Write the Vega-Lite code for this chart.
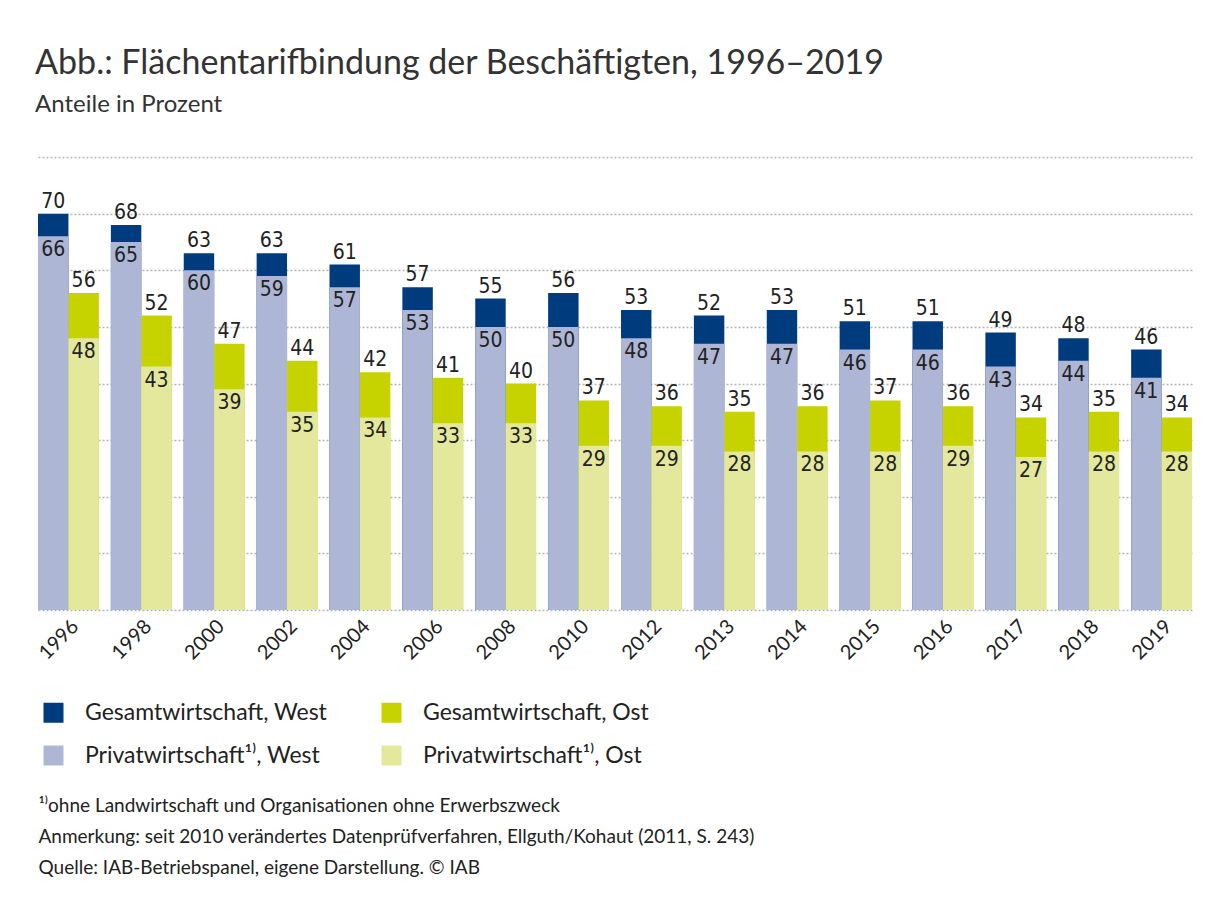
{
  "$schema": "https://vega.github.io/schema/vega-lite/v6.json",
  "width": 1154,
  "height": 453,
  "autosize": {"type": "none"},
  "padding": {"left": 38, "top": 157, "right": 28, "bottom": 291},
  "background": "white",
  "config": {"view": {"stroke": null}},
  "title": {
    "text": "Abb.: Flächentarifbindung der Beschäftigten, 1996–2019",
    "subtitle": "Anteile in Prozent",
    "anchor": "start",
    "font": "Lato",
    "fontSize": 34,
    "fontWeight": "normal",
    "color": "#333333",
    "subtitleFont": "Lato",
    "subtitleFontSize": 24,
    "subtitleColor": "#333333",
    "subtitlePadding": 12,
    "offset": 40
  },
  "data": {
    "values": [
      {"year": "1996", "region": "West", "typ": "Gesamt", "value": 70, "series": "Gesamtwirtschaft, West"},
      {"year": "1996", "region": "Ost", "typ": "Gesamt", "value": 56, "series": "Gesamtwirtschaft, Ost"},
      {"year": "1998", "region": "West", "typ": "Gesamt", "value": 68, "series": "Gesamtwirtschaft, West"},
      {"year": "1998", "region": "Ost", "typ": "Gesamt", "value": 52, "series": "Gesamtwirtschaft, Ost"},
      {"year": "2000", "region": "West", "typ": "Gesamt", "value": 63, "series": "Gesamtwirtschaft, West"},
      {"year": "2000", "region": "Ost", "typ": "Gesamt", "value": 47, "series": "Gesamtwirtschaft, Ost"},
      {"year": "2002", "region": "West", "typ": "Gesamt", "value": 63, "series": "Gesamtwirtschaft, West"},
      {"year": "2002", "region": "Ost", "typ": "Gesamt", "value": 44, "series": "Gesamtwirtschaft, Ost"},
      {"year": "2004", "region": "West", "typ": "Gesamt", "value": 61, "series": "Gesamtwirtschaft, West"},
      {"year": "2004", "region": "Ost", "typ": "Gesamt", "value": 42, "series": "Gesamtwirtschaft, Ost"},
      {"year": "2006", "region": "West", "typ": "Gesamt", "value": 57, "series": "Gesamtwirtschaft, West"},
      {"year": "2006", "region": "Ost", "typ": "Gesamt", "value": 41, "series": "Gesamtwirtschaft, Ost"},
      {"year": "2008", "region": "West", "typ": "Gesamt", "value": 55, "series": "Gesamtwirtschaft, West"},
      {"year": "2008", "region": "Ost", "typ": "Gesamt", "value": 40, "series": "Gesamtwirtschaft, Ost"},
      {"year": "2010", "region": "West", "typ": "Gesamt", "value": 56, "series": "Gesamtwirtschaft, West"},
      {"year": "2010", "region": "Ost", "typ": "Gesamt", "value": 37, "series": "Gesamtwirtschaft, Ost"},
      {"year": "2012", "region": "West", "typ": "Gesamt", "value": 53, "series": "Gesamtwirtschaft, West"},
      {"year": "2012", "region": "Ost", "typ": "Gesamt", "value": 36, "series": "Gesamtwirtschaft, Ost"},
      {"year": "2013", "region": "West", "typ": "Gesamt", "value": 52, "series": "Gesamtwirtschaft, West"},
      {"year": "2013", "region": "Ost", "typ": "Gesamt", "value": 35, "series": "Gesamtwirtschaft, Ost"},
      {"year": "2014", "region": "West", "typ": "Gesamt", "value": 53, "series": "Gesamtwirtschaft, West"},
      {"year": "2014", "region": "Ost", "typ": "Gesamt", "value": 36, "series": "Gesamtwirtschaft, Ost"},
      {"year": "2015", "region": "West", "typ": "Gesamt", "value": 51, "series": "Gesamtwirtschaft, West"},
      {"year": "2015", "region": "Ost", "typ": "Gesamt", "value": 37, "series": "Gesamtwirtschaft, Ost"},
      {"year": "2016", "region": "West", "typ": "Gesamt", "value": 51, "series": "Gesamtwirtschaft, West"},
      {"year": "2016", "region": "Ost", "typ": "Gesamt", "value": 36, "series": "Gesamtwirtschaft, Ost"},
      {"year": "2017", "region": "West", "typ": "Gesamt", "value": 49, "series": "Gesamtwirtschaft, West"},
      {"year": "2017", "region": "Ost", "typ": "Gesamt", "value": 34, "series": "Gesamtwirtschaft, Ost"},
      {"year": "2018", "region": "West", "typ": "Gesamt", "value": 48, "series": "Gesamtwirtschaft, West"},
      {"year": "2018", "region": "Ost", "typ": "Gesamt", "value": 35, "series": "Gesamtwirtschaft, Ost"},
      {"year": "2019", "region": "West", "typ": "Gesamt", "value": 46, "series": "Gesamtwirtschaft, West"},
      {"year": "2019", "region": "Ost", "typ": "Gesamt", "value": 34, "series": "Gesamtwirtschaft, Ost"},
      {"year": "1996", "region": "West", "typ": "Privat", "value": 66, "series": "Privatwirtschaft¹⁾, West"},
      {"year": "1996", "region": "Ost", "typ": "Privat", "value": 48, "series": "Privatwirtschaft¹⁾, Ost"},
      {"year": "1998", "region": "West", "typ": "Privat", "value": 65, "series": "Privatwirtschaft¹⁾, West"},
      {"year": "1998", "region": "Ost", "typ": "Privat", "value": 43, "series": "Privatwirtschaft¹⁾, Ost"},
      {"year": "2000", "region": "West", "typ": "Privat", "value": 60, "series": "Privatwirtschaft¹⁾, West"},
      {"year": "2000", "region": "Ost", "typ": "Privat", "value": 39, "series": "Privatwirtschaft¹⁾, Ost"},
      {"year": "2002", "region": "West", "typ": "Privat", "value": 59, "series": "Privatwirtschaft¹⁾, West"},
      {"year": "2002", "region": "Ost", "typ": "Privat", "value": 35, "series": "Privatwirtschaft¹⁾, Ost"},
      {"year": "2004", "region": "West", "typ": "Privat", "value": 57, "series": "Privatwirtschaft¹⁾, West"},
      {"year": "2004", "region": "Ost", "typ": "Privat", "value": 34, "series": "Privatwirtschaft¹⁾, Ost"},
      {"year": "2006", "region": "West", "typ": "Privat", "value": 53, "series": "Privatwirtschaft¹⁾, West"},
      {"year": "2006", "region": "Ost", "typ": "Privat", "value": 33, "series": "Privatwirtschaft¹⁾, Ost"},
      {"year": "2008", "region": "West", "typ": "Privat", "value": 50, "series": "Privatwirtschaft¹⁾, West"},
      {"year": "2008", "region": "Ost", "typ": "Privat", "value": 33, "series": "Privatwirtschaft¹⁾, Ost"},
      {"year": "2010", "region": "West", "typ": "Privat", "value": 50, "series": "Privatwirtschaft¹⁾, West"},
      {"year": "2010", "region": "Ost", "typ": "Privat", "value": 29, "series": "Privatwirtschaft¹⁾, Ost"},
      {"year": "2012", "region": "West", "typ": "Privat", "value": 48, "series": "Privatwirtschaft¹⁾, West"},
      {"year": "2012", "region": "Ost", "typ": "Privat", "value": 29, "series": "Privatwirtschaft¹⁾, Ost"},
      {"year": "2013", "region": "West", "typ": "Privat", "value": 47, "series": "Privatwirtschaft¹⁾, West"},
      {"year": "2013", "region": "Ost", "typ": "Privat", "value": 28, "series": "Privatwirtschaft¹⁾, Ost"},
      {"year": "2014", "region": "West", "typ": "Privat", "value": 47, "series": "Privatwirtschaft¹⁾, West"},
      {"year": "2014", "region": "Ost", "typ": "Privat", "value": 28, "series": "Privatwirtschaft¹⁾, Ost"},
      {"year": "2015", "region": "West", "typ": "Privat", "value": 46, "series": "Privatwirtschaft¹⁾, West"},
      {"year": "2015", "region": "Ost", "typ": "Privat", "value": 28, "series": "Privatwirtschaft¹⁾, Ost"},
      {"year": "2016", "region": "West", "typ": "Privat", "value": 46, "series": "Privatwirtschaft¹⁾, West"},
      {"year": "2016", "region": "Ost", "typ": "Privat", "value": 29, "series": "Privatwirtschaft¹⁾, Ost"},
      {"year": "2017", "region": "West", "typ": "Privat", "value": 43, "series": "Privatwirtschaft¹⁾, West"},
      {"year": "2017", "region": "Ost", "typ": "Privat", "value": 27, "series": "Privatwirtschaft¹⁾, Ost"},
      {"year": "2018", "region": "West", "typ": "Privat", "value": 44, "series": "Privatwirtschaft¹⁾, West"},
      {"year": "2018", "region": "Ost", "typ": "Privat", "value": 28, "series": "Privatwirtschaft¹⁾, Ost"},
      {"year": "2019", "region": "West", "typ": "Privat", "value": 41, "series": "Privatwirtschaft¹⁾, West"},
      {"year": "2019", "region": "Ost", "typ": "Privat", "value": 28, "series": "Privatwirtschaft¹⁾, Ost"}
    ]
  },
  "encoding": {
    "x": {
      "field": "year",
      "type": "nominal",
      "sort": null,
      "scale": {"paddingInner": 0.165, "paddingOuter": 0},
      "axis": {
        "labelAngle": -45,
        "labelAlign": "right",
        "labelBaseline": "top",
        "labelFont": "Lato",
        "labelFontSize": 20,
        "labelColor": "#222222",
        "labelPadding": 6,
        "ticks": false,
        "domain": false,
        "title": [
          "¹⁾ohne Landwirtschaft und Organisationen ohne Erwerbszweck",
          "Anmerkung: seit 2010 verändertes Datenprüfverfahren, Ellguth/Kohaut (2011, S. 243)",
          "Quelle: IAB-Betriebspanel, eigene Darstellung. © IAB"
        ],
        "titleFont": "Lato",
        "titleFontSize": 19,
        "titleFontWeight": "normal",
        "titleColor": "#222222",
        "titleAlign": "left",
        "titleAnchor": "start",
        "titleBaseline": "top",
        "titleLineHeight": 31,
        "titleX": 0,
        "titleY": 186
      }
    },
    "xOffset": {
      "field": "region",
      "type": "nominal",
      "sort": ["West", "Ost"],
      "scale": {"paddingInner": 0, "paddingOuter": 0}
    }
  },
  "layer": [
    {
      "mark": {"type": "bar"},
      "encoding": {
        "y": {
          "field": "value",
          "type": "quantitative",
          "stack": null,
          "scale": {"domain": [0, 80], "nice": false},
          "axis": {
            "title": null,
            "labels": false,
            "ticks": false,
            "domain": false,
            "values": [0, 10, 20, 30, 40, 50, 60, 70, 80],
            "grid": true,
            "gridColor": "#b5b5b5",
            "gridDash": [2, 2],
            "gridWidth": 1.5
          }
        },
        "color": {
          "field": "series",
          "type": "nominal",
          "scale": {
            "domain": ["Gesamtwirtschaft, West", "Gesamtwirtschaft, Ost", "Privatwirtschaft¹⁾, West", "Privatwirtschaft¹⁾, Ost"],
            "range": ["#003B7E", "#C6D300", "#AEB6D6", "#E4E89C"]
          },
          "legend": {
            "title": null,
            "orient": "none",
            "legendX": 4,
            "legendY": 544,
            "columns": 2,
            "direction": "horizontal",
            "symbolType": "square",
            "symbolSize": 400,
            "symbolStrokeWidth": 0,
            "symbolOpacity": 1,
            "labelFont": "Lato",
            "labelFontSize": 23,
            "labelColor": "#222222",
            "labelOffset": 20,
            "columnPadding": 52,
            "rowPadding": 19,
            "labelLimit": 400
          }
        }
      }
    },
    {
      "transform": [{"filter": "datum.typ === 'Gesamt'"}],
      "mark": {"type": "text", "baseline": "bottom", "dy": -2, "font": "DejaVu Sans Condensed, DejaVu Sans", "fontSize": 21, "color": "#222222"},
      "encoding": {
        "y": {"field": "value", "type": "quantitative"},
        "text": {"field": "value", "type": "quantitative"}
      }
    },
    {
      "transform": [{"filter": "datum.typ === 'Privat'"}],
      "mark": {"type": "text", "baseline": "top", "dy": 3, "font": "DejaVu Sans Condensed, DejaVu Sans", "fontSize": 21, "color": "#222222"},
      "encoding": {
        "y": {"field": "value", "type": "quantitative"},
        "text": {"field": "value", "type": "quantitative"}
      }
    }
  ]
}
